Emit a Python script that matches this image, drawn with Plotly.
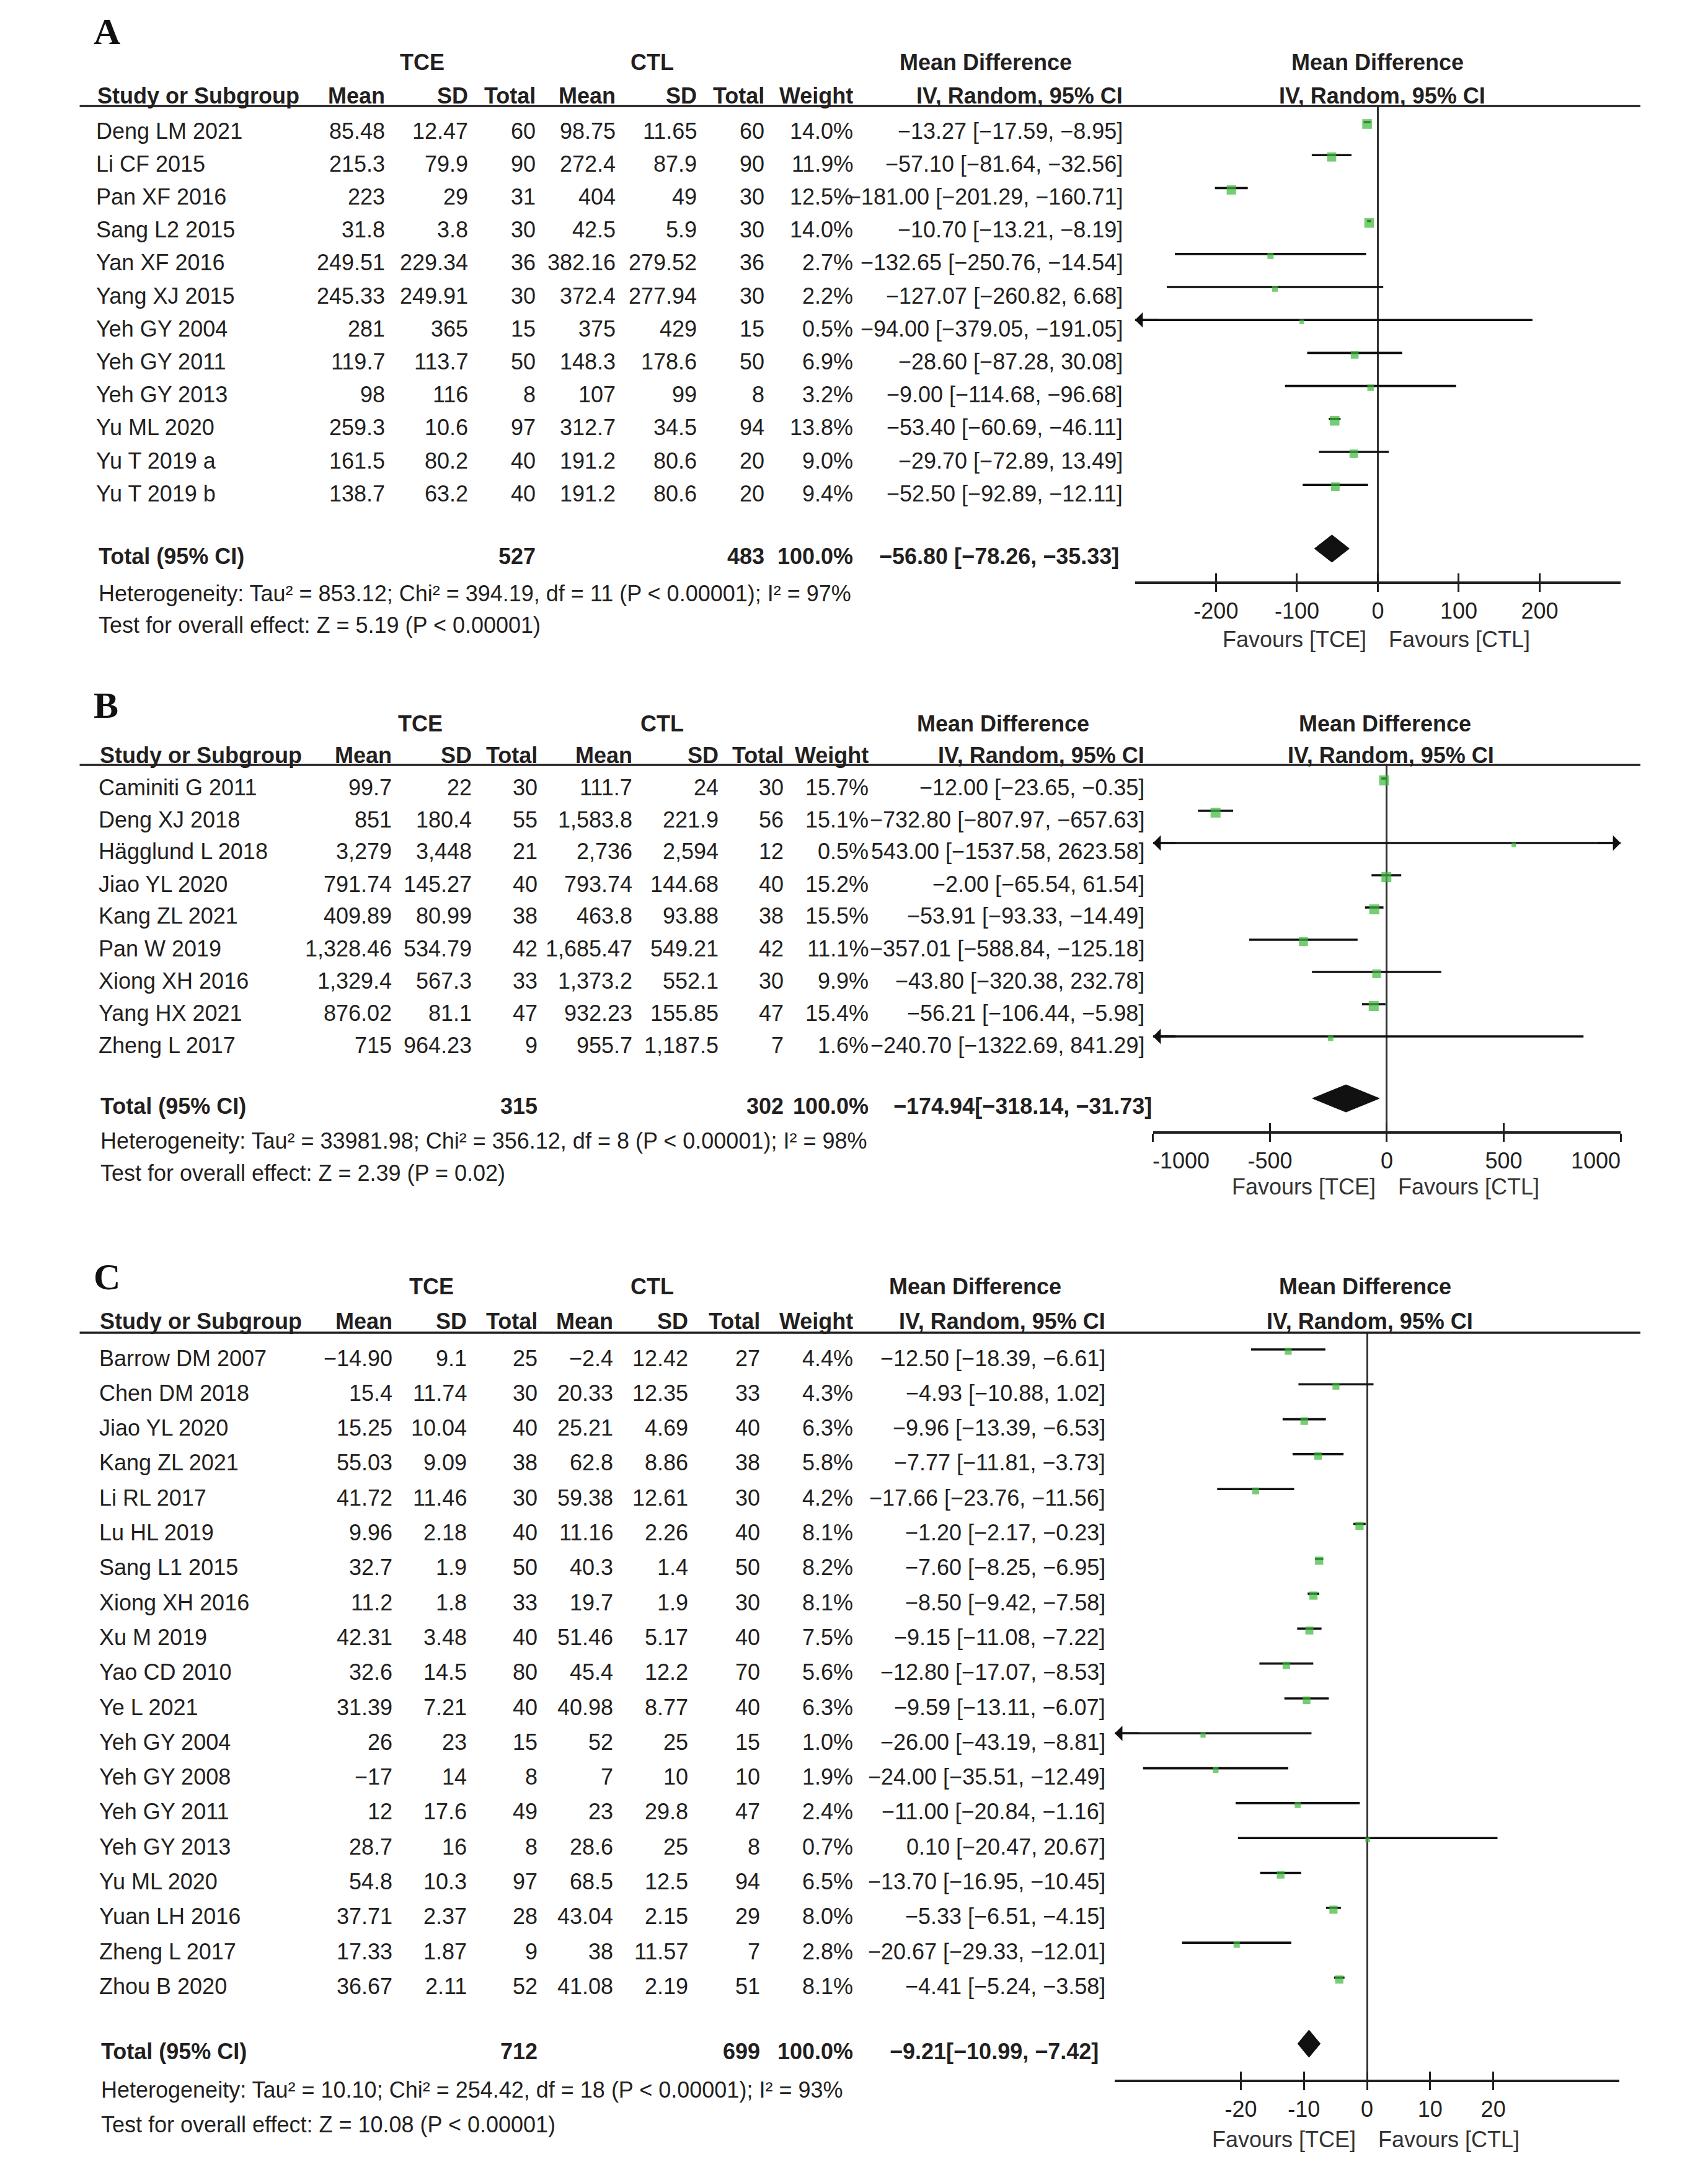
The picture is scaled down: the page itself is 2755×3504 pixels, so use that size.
import plotly.graph_objects as go

W, H = 2755, 3504
SANS = "Liberation Sans, Arial, Helvetica, sans-serif"
SERIF = "Liberation Serif, Times New Roman, serif"
INK = "#231f20"
GREEN = "#3cb83a"
FS = 36
NB = "\u00a0"

# ---------------- Panel A ----------------
A_study = ["Deng LM 2021", "Li CF 2015", "Pan XF 2016", "Sang L2 2015", "Yan XF 2016", "Yang XJ 2015",
           "Yeh GY 2004", "Yeh GY 2011", "Yeh GY 2013", "Yu ML 2020", "Yu T 2019 a", "Yu T 2019 b"]
A_tce_mean = ["85.48", "215.3", "223", "31.8", "249.51", "245.33", "281", "119.7", "98", "259.3", "161.5", "138.7"]
A_tce_sd = ["12.47", "79.9", "29", "3.8", "229.34", "249.91", "365", "113.7", "116", "10.6", "80.2", "63.2"]
A_tce_n = [60, 90, 31, 30, 36, 30, 15, 50, 8, 97, 40, 40]
A_ctl_mean = ["98.75", "272.4", "404", "42.5", "382.16", "372.4", "375", "148.3", "107", "312.7", "191.2", "191.2"]
A_ctl_sd = ["11.65", "87.9", "49", "5.9", "279.52", "277.94", "429", "178.6", "99", "34.5", "80.6", "80.6"]
A_ctl_n = [60, 90, 30, 30, 36, 30, 15, 50, 8, 94, 20, 20]
A_weight = [14.0, 11.9, 12.5, 14.0, 2.7, 2.2, 0.5, 6.9, 3.2, 13.8, 9.0, 9.4]
A_md = [-13.27, -57.10, -181.00, -10.70, -132.65, -127.07, -94.00, -28.60, -9.00, -53.40, -29.70, -52.50]
A_lo = [-17.59, -81.64, -201.29, -13.21, -250.76, -260.82, -379.05, -87.28, -114.68, -60.69, -72.89, -92.89]
A_hi = [-8.95, -32.56, -160.71, -8.19, -14.54, 6.68, 191.05, 30.08, 96.68, -46.11, 13.49, -12.11]
A_ci_text = ["−13.27 [−17.59, −8.95]", "−57.10 [−81.64, −32.56]", "−181.00 [−201.29, −160.71]",
             "−10.70 [−13.21, −8.19]", "−132.65 [−250.76, −14.54]", "−127.07 [−260.82, 6.68]",
             "−94.00 [−379.05, −191.05]", "−28.60 [−87.28, 30.08]", "−9.00 [−114.68, −96.68]",
             "−53.40 [−60.69, −46.11]", "−29.70 [−72.89, 13.49]", "−52.50 [−92.89, −12.11]"]
A_total = [-56.80, -78.26, -35.33]
A_total_text = "−56.80 [−78.26, −35.33]"
A_het = "Heterogeneity: Tau² = 853.12; Chi² = 394.19, df = 11 (P < 0.00001); I² = 97%"
A_test = "Test for overall effect: Z = 5.19 (P < 0.00001)"
A_ticks = [-200, -100, 0, 100, 200]
A_ticktext = ["-200", "-100", "0", "100", "200"]
A_range = [-300, 300]

# ---------------- Panel B ----------------
B_study = ["Caminiti G 2011", "Deng XJ 2018", "Hägglund L 2018", "Jiao YL 2020", "Kang ZL 2021",
           "Pan W 2019", "Xiong XH 2016", "Yang HX 2021", "Zheng L 2017"]
B_tce_mean = ["99.7", "851", "3,279", "791.74", "409.89", "1,328.46", "1,329.4", "876.02", "715"]
B_tce_sd = ["22", "180.4", "3,448", "145.27", "80.99", "534.79", "567.3", "81.1", "964.23"]
B_tce_n = [30, 55, 21, 40, 38, 42, 33, 47, 9]
B_ctl_mean = ["111.7", "1,583.8", "2,736", "793.74", "463.8", "1,685.47", "1,373.2", "932.23", "955.7"]
B_ctl_sd = ["24", "221.9", "2,594", "144.68", "93.88", "549.21", "552.1", "155.85", "1,187.5"]
B_ctl_n = [30, 56, 12, 40, 38, 42, 30, 47, 7]
B_weight = [15.7, 15.1, 0.5, 15.2, 15.5, 11.1, 9.9, 15.4, 1.6]
B_md = [-12.00, -732.80, 543.00, -2.00, -53.91, -357.01, -43.80, -56.21, -240.70]
B_lo = [-23.65, -807.97, -1537.58, -65.54, -93.33, -588.84, -320.38, -106.44, -1322.69]
B_hi = [-0.35, -657.63, 2623.58, 61.54, -14.49, -125.18, 232.78, -5.98, 841.29]
B_ci_text = ["−12.00 [−23.65, −0.35]", "−732.80 [−807.97, −657.63]", "543.00 [−1537.58, 2623.58]",
             "−2.00 [−65.54, 61.54]", "−53.91 [−93.33, −14.49]", "−357.01 [−588.84, −125.18]",
             "−43.80 [−320.38, 232.78]", "−56.21 [−106.44, −5.98]", "−240.70 [−1322.69, 841.29]"]
B_total = [-174.94, -318.14, -31.73]
B_total_text = "−174.94[−318.14, −31.73]"
B_het = "Heterogeneity: Tau² = 33981.98; Chi² = 356.12, df = 8 (P < 0.00001); I² = 98%"
B_test = "Test for overall effect: Z = 2.39 (P = 0.02)"
B_ticks = [-1000, -500, 0, 500, 1000]
# end labels sit inside the axis (left-aligned / right-aligned on their ticks)
B_ticktext = [NB * 9 + "-1000", "-500", "0", "500", "1000" + NB * 8]
B_range = [-1000, 1000]

# ---------------- Panel C ----------------
C_study = ["Barrow DM 2007", "Chen DM 2018", "Jiao YL 2020", "Kang ZL 2021", "Li RL 2017", "Lu HL 2019",
           "Sang L1 2015", "Xiong XH 2016", "Xu M 2019", "Yao CD 2010", "Ye L 2021", "Yeh GY 2004",
           "Yeh GY 2008", "Yeh GY 2011", "Yeh GY 2013", "Yu ML 2020", "Yuan LH 2016", "Zheng L 2017", "Zhou B 2020"]
C_tce_mean = ["−14.90", "15.4", "15.25", "55.03", "41.72", "9.96", "32.7", "11.2", "42.31", "32.6", "31.39",
              "26", "−17", "12", "28.7", "54.8", "37.71", "17.33", "36.67"]
C_tce_sd = ["9.1", "11.74", "10.04", "9.09", "11.46", "2.18", "1.9", "1.8", "3.48", "14.5", "7.21",
            "23", "14", "17.6", "16", "10.3", "2.37", "1.87", "2.11"]
C_tce_n = [25, 30, 40, 38, 30, 40, 50, 33, 40, 80, 40, 15, 8, 49, 8, 97, 28, 9, 52]
C_ctl_mean = ["−2.4", "20.33", "25.21", "62.8", "59.38", "11.16", "40.3", "19.7", "51.46", "45.4", "40.98",
              "52", "7", "23", "28.6", "68.5", "43.04", "38", "41.08"]
C_ctl_sd = ["12.42", "12.35", "4.69", "8.86", "12.61", "2.26", "1.4", "1.9", "5.17", "12.2", "8.77",
            "25", "10", "29.8", "25", "12.5", "2.15", "11.57", "2.19"]
C_ctl_n = [27, 33, 40, 38, 30, 40, 50, 30, 40, 70, 40, 15, 10, 47, 8, 94, 29, 7, 51]
C_weight = [4.4, 4.3, 6.3, 5.8, 4.2, 8.1, 8.2, 8.1, 7.5, 5.6, 6.3, 1.0, 1.9, 2.4, 0.7, 6.5, 8.0, 2.8, 8.1]
C_md = [-12.50, -4.93, -9.96, -7.77, -17.66, -1.20, -7.60, -8.50, -9.15, -12.80, -9.59, -26.00,
        -24.00, -11.00, 0.10, -13.70, -5.33, -20.67, -4.41]
C_lo = [-18.39, -10.88, -13.39, -11.81, -23.76, -2.17, -8.25, -9.42, -11.08, -17.07, -13.11, -43.19,
        -35.51, -20.84, -20.47, -16.95, -6.51, -29.33, -5.24]
C_hi = [-6.61, 1.02, -6.53, -3.73, -11.56, -0.23, -6.95, -7.58, -7.22, -8.53, -6.07, -8.81,
        -12.49, -1.16, 20.67, -10.45, -4.15, -12.01, -3.58]
C_ci_text = ["−12.50 [−18.39, −6.61]", "−4.93 [−10.88, 1.02]", "−9.96 [−13.39, −6.53]", "−7.77 [−11.81, −3.73]",
             "−17.66 [−23.76, −11.56]", "−1.20 [−2.17, −0.23]", "−7.60 [−8.25, −6.95]", "−8.50 [−9.42, −7.58]",
             "−9.15 [−11.08, −7.22]", "−12.80 [−17.07, −8.53]", "−9.59 [−13.11, −6.07]", "−26.00 [−43.19, −8.81]",
             "−24.00 [−35.51, −12.49]", "−11.00 [−20.84, −1.16]", "0.10 [−20.47, 20.67]", "−13.70 [−16.95, −10.45]",
             "−5.33 [−6.51, −4.15]", "−20.67 [−29.33, −12.01]", "−4.41 [−5.24, −3.58]"]
C_total = [-9.21, -10.99, -7.42]
C_total_text = "−9.21[−10.99, −7.42]"
C_het = "Heterogeneity: Tau² = 10.10; Chi² = 254.42, df = 18 (P < 0.00001); I² = 93%"
C_test = "Test for overall effect: Z = 10.08 (P < 0.00001)"
C_ticks = [-20, -10, 0, 10, 20]
C_ticktext = ["-20", "-10", "0", "10", "20"]
C_range = [-40, 40]

col_heads = ["Mean", "SD", "Total", "Mean", "SD", "Total", "Weight"]

panels = [
    dict(letter="A", study=A_study, cols=[A_tce_mean, A_tce_sd, A_tce_n, A_ctl_mean, A_ctl_sd, A_ctl_n],
         tce_n=A_tce_n, ctl_n=A_ctl_n, weight=A_weight, md=A_md, lo=A_lo, hi=A_hi, ci=A_ci_text,
         total=A_total, total_text=A_total_text, het=A_het, test=A_test, ticks=A_ticks, ticktext=A_ticktext,
         xr=A_range,
         y_letter=51, y_group=101, y_head=154, y_rule=171, y_row0=211, step=53.2, y_total=897,
         y_het=957, y_test=1008, y_axis=938, y_fav=1031,
         x_study=66, x_cols=[567, 710, 826, 964, 1104, 1220, 1372], x_ci=1836, x_tot_ci=1830,
         x_tce=629, x_ctl=1025, x_md_head=1598, x_plot=[1855, 2690], md2_dx=0, iv2_dx=8),
    dict(letter="B", study=B_study, cols=[B_tce_mean, B_tce_sd, B_tce_n, B_ctl_mean, B_ctl_sd, B_ctl_n],
         tce_n=B_tce_n, ctl_n=B_ctl_n, weight=B_weight, md=B_md, lo=B_lo, hi=B_hi, ci=B_ci_text,
         total=B_total, total_text=B_total_text, het=B_het, test=B_test, ticks=B_ticks, ticktext=B_ticktext,
         xr=B_range,
         y_letter=1138, y_group=1167, y_head=1219, y_rule=1234, y_row0=1270, step=52.0, y_total=1784,
         y_het=1840, y_test=1892, y_axis=1825, y_fav=1914,
         x_study=70, x_cols=[579, 716, 829, 993, 1141, 1253, 1399], x_ci=1873, x_tot_ci=1886,
         x_tce=626, x_ctl=1042, x_md_head=1628, x_plot=[1886, 2690], md2_dx=-3, iv2_dx=7),
    dict(letter="C", study=C_study, cols=[C_tce_mean, C_tce_sd, C_tce_n, C_ctl_mean, C_ctl_sd, C_ctl_n],
         tce_n=C_tce_n, ctl_n=C_ctl_n, weight=C_weight, md=C_md, lo=C_lo, hi=C_hi, ci=C_ci_text,
         total=C_total, total_text=C_total_text, het=C_het, test=C_test, ticks=C_ticks, ticktext=C_ticktext,
         xr=C_range,
         y_letter=2060, y_group=2075, y_head=2131, y_rule=2150, y_row0=2191, step=56.3, y_total=3309,
         y_het=3371, y_test=3427, y_axis=3355, y_fav=3451,
         x_study=71, x_cols=[580, 708, 830, 960, 1089, 1212, 1372], x_ci=1806, x_tot_ci=1794,
         x_tce=645, x_ctl=1025, x_md_head=1580, x_plot=[1820, 2688], md2_dx=-3, iv2_dx=5),
]

fig = go.Figure()
ann = []
shapes = []


def px(x):
    return x / W


def py(y):
    return 1 - y / H


def txt(x, y, s, anchor="right", bold=False, size=FS, family=SANS, color=INK):
    if bold:
        s = "<b>" + s + "</b>"
    ann.append(dict(x=px(x), y=py(y), xref="paper", yref="paper", text=s, showarrow=False,
                    xanchor=anchor, yanchor="middle", font=dict(family=family, size=size, color=color)))


LINE_OFF, BOX_OFF, DIA_OFF = 14, 11, 12
layout_axes = {}

for k, p in enumerate(panels):
    sfx = "" if k == 0 else str(k + 1)
    xa, ya = "x" + sfx, "y" + sfx
    n = len(p["study"])
    rows_y = [p["y_row0"] + i * p["step"] for i in range(n)]
    xmin, xmax = p["xr"]
    zero_px = p["x_plot"][0] + (0 - xmin) / (xmax - xmin) * (p["x_plot"][1] - p["x_plot"][0])

    # letter and headings
    txt(62, p["y_letter"], p["letter"], anchor="left", bold=True, size=60, family=SERIF, color="#111")
    txt(p["x_tce"], p["y_group"], "TCE", anchor="center", bold=True)
    txt(p["x_ctl"], p["y_group"], "CTL", anchor="center", bold=True)
    txt(p["x_md_head"], p["y_group"], "Mean Difference", anchor="center", bold=True)
    txt(zero_px + p["md2_dx"], p["y_group"], "Mean Difference", anchor="center", bold=True)
    txt(p["x_study"] + 2, p["y_head"], "Study or Subgroup", anchor="left", bold=True)
    for h, xc in zip(col_heads, p["x_cols"]):
        txt(xc, p["y_head"], h, bold=True)
    txt(p["x_ci"], p["y_head"], "IV, Random, 95% CI", bold=True)
    txt(zero_px + p["iv2_dx"], p["y_head"], "IV, Random, 95% CI", anchor="center", bold=True)
    shapes.append(dict(type="line", xref="paper", yref="paper", x0=px(40), x1=px(2724),
                       y0=py(p["y_rule"]), y1=py(p["y_rule"]), line=dict(color=INK, width=3.5)))

    # study rows
    for i in range(n):
        y = rows_y[i]
        txt(p["x_study"], y, p["study"][i], anchor="left")
        for c, xc in zip(p["cols"], p["x_cols"][:6]):
            txt(xc, y, str(c[i]))
        txt(p["x_cols"][6], y, f"{p['weight'][i]:.1f}%")
        txt(p["x_ci"], y, p["ci"][i])

    # total row and footers
    txt(p["x_study"] + 4, p["y_total"], "Total (95% CI)", anchor="left", bold=True)
    txt(p["x_cols"][2], p["y_total"], str(sum(p["tce_n"])), bold=True)
    txt(p["x_cols"][5], p["y_total"], str(sum(p["ctl_n"])), bold=True)
    txt(p["x_cols"][6], p["y_total"], "100.0%", bold=True)
    txt(p["x_tot_ci"], p["y_total"], p["total_text"], bold=True)
    txt(p["x_study"] + 4, p["y_het"], p["het"], anchor="left")
    txt(p["x_study"] + 4, p["y_test"], p["test"], anchor="left")

    # axes
    layout_axes["xaxis" + sfx] = dict(
        domain=[px(p["x_plot"][0]), px(p["x_plot"][1])], range=p["xr"], anchor=ya,
        showline=True, linewidth=3.5, linecolor=INK, ticks="outside", ticklen=13, tickwidth=3,
        tickcolor=INK, tickvals=p["ticks"], ticktext=p["ticktext"], ticklabeloverflow="allow",
        tickfont=dict(family=SANS, size=FS, color=INK), showgrid=False,
        zeroline=True, zerolinecolor="#333333", zerolinewidth=2.7, fixedrange=True)
    layout_axes["yaxis" + sfx] = dict(
        domain=[py(p["y_axis"]), py(p["y_rule"])], range=[p["y_axis"], p["y_rule"]], anchor=xa,
        visible=False, fixedrange=True)
    ov = "xaxis" + str(k + 4)
    layout_axes[ov] = dict(overlaying=xa, anchor=ya, range=p["xr"], tickvals=p["ticks"], ticks="inside",
                           ticklen=13, tickwidth=3, tickcolor=INK, showticklabels=False, showline=False,
                           zeroline=False, showgrid=False, fixedrange=True)
    fig.add_trace(go.Scatter(x=[None], y=[None], xaxis="x" + str(k + 4), yaxis=ya, showlegend=False,
                             hoverinfo="skip"))

    # CI lines (clipped to axis range, arrows where they run off)
    lx, ly = [], []
    for i in range(n):
        y = rows_y[i] - LINE_OFF
        lx += [max(p["lo"][i], xmin), min(p["hi"][i], xmax), None]
        ly += [y, y, None]
        span = (xmax - xmin) * 0.05
        if p["lo"][i] < xmin:
            ann.append(dict(x=xmin, y=y, ax=xmin + span, ay=y, xref=xa, yref=ya, axref=xa, ayref=ya,
                            text="", showarrow=True, arrowhead=1, arrowsize=1.15, arrowwidth=3.6,
                            arrowcolor="#111111", standoff=0))
        if p["hi"][i] > xmax:
            ann.append(dict(x=xmax, y=y, ax=xmax - span, ay=y, xref=xa, yref=ya, axref=xa, ayref=ya,
                            text="", showarrow=True, arrowhead=1, arrowsize=1.15, arrowwidth=3.6,
                            arrowcolor="#111111", standoff=0))
    fig.add_trace(go.Scatter(x=lx, y=ly, mode="lines", line=dict(color="#111111", width=3.6),
                             xaxis=xa, yaxis=ya, showlegend=False, hoverinfo="skip"))

    # weight squares
    sizes = [5.5 + 2.7 * w ** 0.5 for w in p["weight"]]
    fig.add_trace(go.Scatter(x=p["md"], y=[y - BOX_OFF for y in rows_y], mode="markers",
                             marker=dict(symbol="square", size=sizes, color=GREEN, line=dict(width=0)),
                             xaxis=xa, yaxis=ya, showlegend=False, cliponaxis=False))

    # pooled diamond
    md, lo, hi = p["total"]
    ty = p["y_total"] - DIA_OFF
    hh = 22
    fig.add_trace(go.Scatter(x=[lo, md, hi, md, lo], y=[ty, ty - hh, ty, ty + hh, ty], mode="lines",
                             fill="toself", fillcolor="#111111", line=dict(color="#111111", width=1),
                             xaxis=xa, yaxis=ya, showlegend=False, hoverinfo="skip"))

    # favours labels
    ann.append(dict(x=0, y=py(p["y_fav"]), xref=xa, yref="paper", text="Favours [TCE]", showarrow=False,
                    xanchor="right", yanchor="middle", xshift=-16,
                    font=dict(family=SANS, size=FS, color="#333333")))
    ann.append(dict(x=0, y=py(p["y_fav"]), xref=xa, yref="paper", text="Favours [CTL]", showarrow=False,
                    xanchor="left", yanchor="middle", xshift=16,
                    font=dict(family=SANS, size=FS, color="#333333")))

fig.update_layout(width=W, height=H, margin=dict(l=0, r=0, t=0, b=0), paper_bgcolor="white",
                  plot_bgcolor="rgba(0,0,0,0)", showlegend=False, annotations=ann, shapes=shapes,
                  **layout_axes)

fig.write_html("out.html", config={"displayModeBar": False},
               post_script="document.body.style.margin='0';document.body.style.overflow='hidden';"
                           "document.documentElement.style.overflow='hidden';")
